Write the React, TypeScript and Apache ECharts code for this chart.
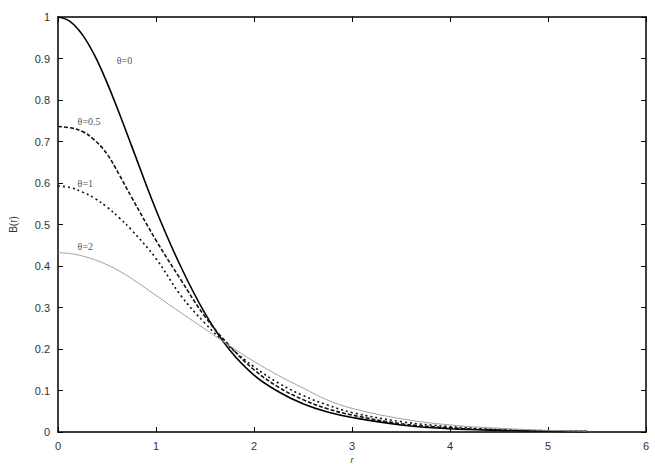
import React, { useEffect, useRef } from "react";
import * as echarts from "echarts";

const rValues = [0, 0.125, 0.25, 0.375, 0.5, 0.625, 0.75, 1, 1.25, 1.5, 1.75, 2, 2.25, 2.5, 2.75, 3, 3.5, 4, 4.5, 5, 5.4];
const theta0 = [1, 0.989, 0.957, 0.907, 0.842, 0.768, 0.69, 0.535, 0.4, 0.286, 0.198, 0.137, 0.097, 0.068, 0.048, 0.035, 0.017, 0.008, 0.004, 0.002, 0.001];
const theta05 = [0.736, 0.733, 0.724, 0.703, 0.67, 0.62, 0.566, 0.462, 0.368, 0.278, 0.208, 0.15, 0.108, 0.078, 0.056, 0.041, 0.02, 0.01, 0.005, 0.002, 0.001];
const theta1 = [0.593, 0.589, 0.578, 0.563, 0.542, 0.516, 0.487, 0.418, 0.33, 0.262, 0.205, 0.157, 0.118, 0.088, 0.065, 0.047, 0.025, 0.013, 0.006, 0.003, 0.002];
const theta2 = [0.432, 0.43, 0.424, 0.415, 0.403, 0.388, 0.37, 0.329, 0.288, 0.248, 0.208, 0.17, 0.136, 0.106, 0.077, 0.057, 0.032, 0.017, 0.009, 0.004, 0.002];

const curveLabels = ["θ=0", "θ=0.5", "θ=1", "θ=2"];
const labelR = [0.6, 0.2, 0.2, 0.2];
const labelB = [0.896, 0.748, 0.598, 0.447];

export default function App() {
  const ref = useRef<HTMLDivElement>(null);
  useEffect(() => {
    if (!ref.current) return;
    document.body.style.margin = "0";
    document.body.style.overflow = "hidden";
    const chart = echarts.init(ref.current, undefined, { renderer: "svg" });
    const pair = (ys: number[]) => rValues.map((r, i) => [r, ys[i]]);
    const axisLine = { show: true, onZero: false, lineStyle: { color: "#000", width: 1.5 } };
    const tickStyle = { show: true, inside: true, length: 5, lineStyle: { color: "#000", width: 1 } };
    const labelStyle = { color: "#333", fontSize: 11, fontFamily: "Liberation Sans, Arial, sans-serif" };
    const lineSeries = (name: string, ys: number[], style: any) => ({
      name,
      type: "line",
      data: pair(ys),
      smooth: 0.4,
      showSymbol: false,
      symbol: "none",
      lineStyle: style,
      z: 3,
    });
    chart.setOption({
      animation: false,
      backgroundColor: "#fff",
      grid: { left: 58, right: 9, top: 17, bottom: 32, containLabel: false, outerBoundsMode: "none" },
      xAxis: [
        {
          type: "value",
          position: "bottom",
          min: 0,
          max: 6,
          interval: 1,
          name: "r",
          nameLocation: "middle",
          nameGap: 19,
          nameTextStyle: { ...labelStyle, fontSize: 9, fontStyle: "italic" },
          axisLine,
          axisTick: tickStyle,
          axisLabel: { ...labelStyle, margin: 8 },
          splitLine: { show: false },
        },
        {
          type: "value",
          position: "top",
          min: 0,
          max: 6,
          interval: 1,
          axisLine,
          axisTick: tickStyle,
          axisLabel: { show: false },
          splitLine: { show: false },
        },
      ],
      yAxis: [
        {
          type: "value",
          position: "left",
          min: 0,
          max: 1,
          interval: 0.1,
          name: "B(r)",
          nameLocation: "middle",
          nameGap: 40,
          nameRotate: 90,
          nameTextStyle: { ...labelStyle, fontSize: 10 },
          axisLine,
          axisTick: tickStyle,
          axisLabel: { ...labelStyle, margin: 8, formatter: (v: number) => String(Math.round(v * 10) / 10) },
          splitLine: { show: false },
        },
        {
          type: "value",
          position: "right",
          min: 0,
          max: 1,
          interval: 0.1,
          axisLine,
          axisTick: tickStyle,
          axisLabel: { show: false },
          splitLine: { show: false },
        },
      ],
      series: [
        lineSeries(curveLabels[0], theta0, { color: "#000", width: 1.6, type: "solid" }),
        lineSeries(curveLabels[1], theta05, { color: "#111", width: 1.6, type: [4, 2] }),
        lineSeries(curveLabels[2], theta1, { color: "#111", width: 1.6, type: [2, 3] }),
        lineSeries(curveLabels[3], theta2, { color: "#a0a0a0", width: 1, type: "solid" }),
        {
          type: "scatter",
          symbolSize: 0,
          silent: true,
          data: curveLabels.map((t, i) => ({ value: [labelR[i], labelB[i]], name: t })),
          label: {
            show: true,
            position: "right",
            distance: 0,
            formatter: (p: any) => p.name,
            color: "#222",
            fontSize: 10,
            fontFamily: "Liberation Serif, Times New Roman, serif",
          },
          z: 4,
        },
      ],
    });
    return () => chart.dispose();
  }, []);
  return <div ref={ref} style={{ width: 655, height: 464 }} />;
}
